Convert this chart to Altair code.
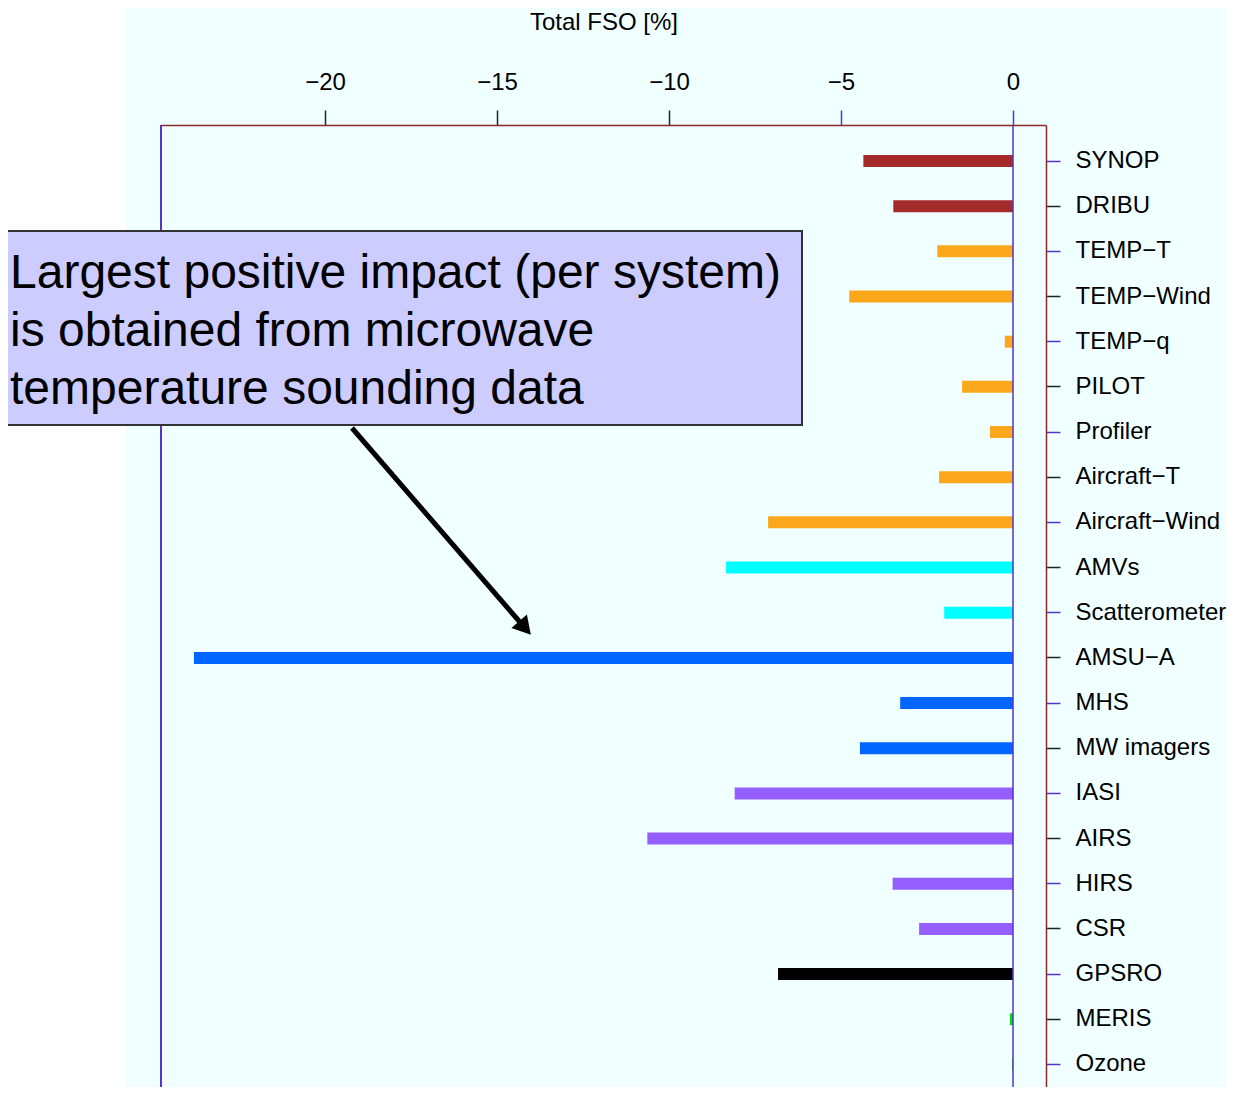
import altair as alt
import pandas as pd

systems = ["SYNOP", "DRIBU", "TEMP\u2212T", "TEMP\u2212Wind", "TEMP\u2212q", "PILOT", "Profiler",
           "Aircraft\u2212T", "Aircraft\u2212Wind", "AMVs", "Scatterometer", "AMSU\u2212A", "MHS",
           "MW imagers", "IASI", "AIRS", "HIRS", "CSR", "GPSRO", "MERIS", "Ozone"]
fso = [-4.35, -3.48, -2.20, -4.76, -0.24, -1.48, -0.67, -2.15, -7.12, -8.34, -2.00,
       -23.81, -3.28, -4.45, -8.09, -10.63, -3.50, -2.73, -6.83, -0.09, -0.03]
colors = ["#a52a2a", "#a52a2a", "#fba71b", "#fba71b", "#fba71b", "#fba71b", "#fba71b",
          "#fba71b", "#fba71b", "#00ffff", "#00ffff", "#0066ff", "#0066ff", "#0066ff",
          "#955fff", "#955fff", "#955fff", "#955fff", "#000000", "#00dd00", "#33cc33"]
x_ticks = [-20, -15, -10, -5, 0]
x_domain = [-24.767, 0.959]
annotation = "Largest positive impact (per system)\nis obtained from microwave\ntemperature sounding data"

W, H = 885, 962
FONT = "Liberation Sans"
PURPLE = "#5533cc"
DARKRED = "#8b2a2a"

df = pd.DataFrame({"system": systems, "fso": fso, "color": colors})
one = pd.DataFrame({"a": [0]})

even_rows = "[" + ",".join("'" + s + "'" for s in systems[::2]) + "]"

bars = alt.Chart(df).mark_bar(size=12).encode(
    x=alt.X("fso:Q",
            scale=alt.Scale(domain=x_domain, nice=False, zero=False),
            axis=alt.Axis(orient="top", values=x_ticks, format="d", zindex=1,
                          title="Total FSO [%]", titleFontSize=24, titleFont=FONT,
                          titleFontWeight="normal", titleColor="black", titlePadding=36,
                          labelFontSize=24, labelFont=FONT, labelColor="black",
                          labelPadding=16, tickSize=15, tickWidth=1.5,
                          tickColor={"condition": {"test": "datum.value >= -5", "value": PURPLE},
                                     "value": "#222222"},
                          domainColor=DARKRED, domainWidth=1.5, grid=False, labelFlush=False)),
    x2=alt.datum(0),
    y=alt.Y("system:N", sort=systems,
            scale=alt.Scale(paddingInner=0, paddingOuter=0.1485, align=1),
            axis=alt.Axis(orient="right", title=None, labelFontSize=24, labelFont=FONT,
                          labelColor="black", labelPadding=15, tickSize=14, tickWidth=1.5,
                          zindex=1,
                          tickColor={"condition": {"test": "indexof(" + even_rows + ", datum.value) >= 0",
                                                   "value": PURPLE},
                                     "value": "#222222"},
                          domainColor=DARKRED, domainWidth=1.5, grid=False)),
    color=alt.Color("color:N", scale=None),
)

bg = alt.Chart(one).mark_rect(color="#f0ffff", clip=False).encode(
    x=alt.value(-35), x2=alt.value(W + 200), y=alt.value(-130), y2=alt.value(H + 20))

zero_rule = alt.Chart(one).mark_rule(color=PURPLE, strokeWidth=1.5).encode(
    x=alt.datum(0), y=alt.value(0), y2=alt.value(H))

left_rule = alt.Chart(one).mark_rule(color=PURPLE, strokeWidth=2).encode(
    x=alt.value(0), y=alt.value(0), y2=alt.value(H))

box = alt.Chart(one).mark_rect(fill="#ccccff", stroke="#333333", strokeWidth=2, clip=False).encode(
    x=alt.value(-175), x2=alt.value(641), y=alt.value(106), y2=alt.value(300))

box_text = alt.Chart(pd.DataFrame({"t": [annotation]})).mark_text(
    align="left", baseline="alphabetic", fontSize=48, lineHeight=58, lineBreak="\n",
    font=FONT, color="black").encode(
    x=alt.value(-151), y=alt.value(163), text="t:N")

arrow_line = alt.Chart(one).mark_rule(color="black", strokeWidth=5).encode(
    x=alt.value(191), y=alt.value(303), x2=alt.value(364), y2=alt.value(503))

arrow_head = alt.Chart(one).mark_point(shape="triangle-up", filled=True, size=420,
                                       color="black", opacity=1, angle=139).encode(
    x=alt.value(364), y=alt.value(503))

chart = alt.layer(bg, bars, zero_rule, left_rule, box, box_text, arrow_line, arrow_head).properties(
    width=W, height=H,
    autosize=alt.AutoSizeParams(type="none"),
    padding={"left": 153, "top": 117, "right": 180, "bottom": 0},
    background="white",
).configure_view(stroke=None)

chart.save("out.html", embed_options={"renderer": "svg", "actions": False})
